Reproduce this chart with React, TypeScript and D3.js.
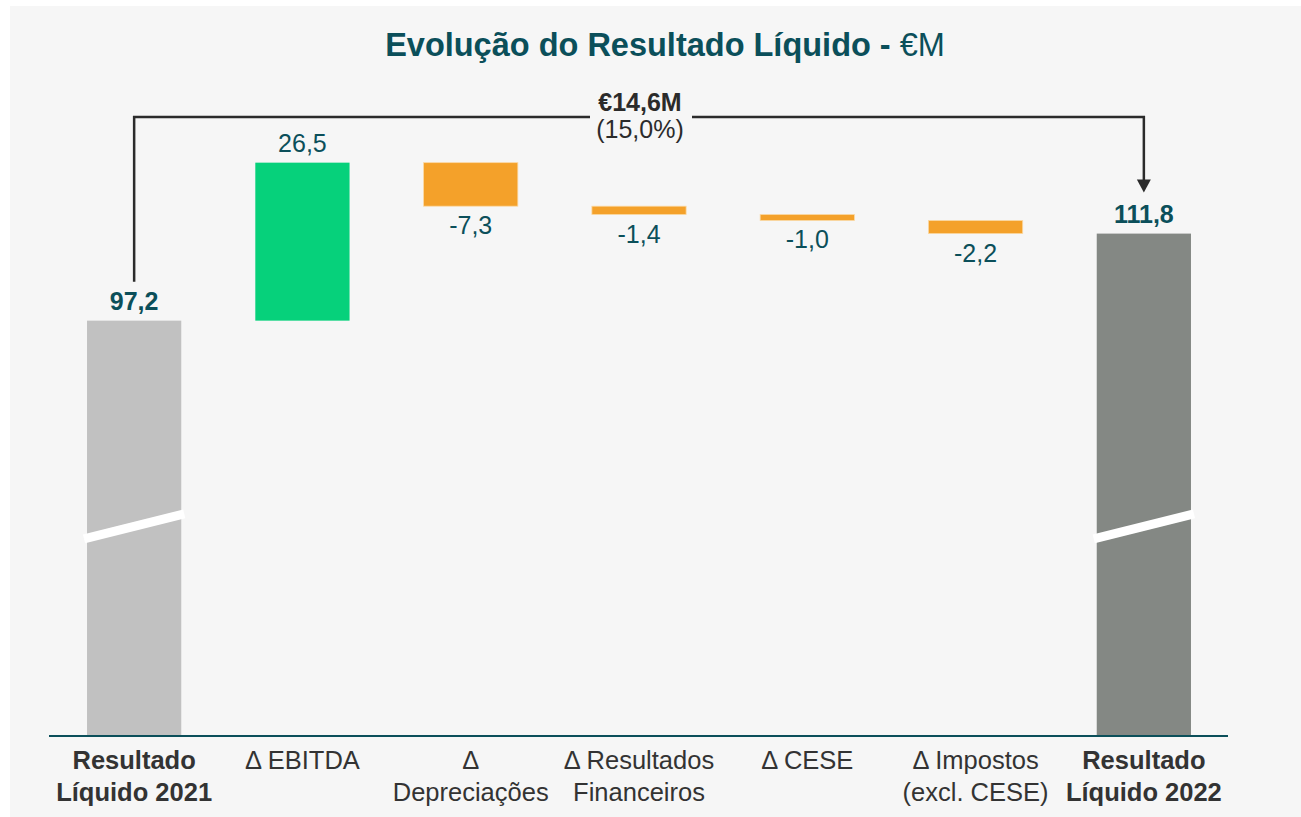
import React from "react";
import * as d3 from "d3";

const categories: string[][] = [
  ["Resultado", "Líquido 2021"],
  ["Δ EBITDA"],
  ["Δ", "Depreciações"],
  ["Δ Resultados", "Financeiros"],
  ["Δ CESE"],
  ["Δ Impostos", "(excl. CESE)"],
  ["Resultado", "Líquido 2022"],
];
const kinds = ["total", "delta", "delta", "delta", "delta", "delta", "total"];
const values = [97.2, 26.5, -7.3, -1.4, -1.0, -2.2, 111.8];
const valueLabels = ["97,2", "26,5", "-7,3", "-1,4", "-1,0", "-2,2", "111,8"];
const changeLabel = "€14,6M";
const changePct = "(15,0%)";
const axisMin = 27.7;
const axisMax = 127.5;
const breakValue = 62.4;

const W = 1301;
const H = 817;
const FONT = "'Liberation Sans', Arial, Helvetica, sans-serif";
const TEAL = "#0b4f5a";
const FS = 25;

export default function App() {
  const x = d3
    .scaleBand<number>()
    .domain(d3.range(categories.length))
    .range([50, 1228])
    .paddingInner(0.44)
    .paddingOuter(0.22);
  const y = d3.scaleLinear().domain([axisMin, axisMax]).range([735, 140]);

  let running = 0;
  const segs = values.map((v, i) => {
    if (kinds[i] === "total") {
      running = v;
      return { lo: axisMin, hi: v, v, i };
    }
    const start = running;
    const end = running + v;
    running = end;
    return { lo: Math.min(start, end), hi: Math.max(start, end), v, i };
  });

  const colorFor = (i: number, v: number) => {
    if (i === 0) return "#c1c1c1";
    if (i === values.length - 1) return "#848884";
    return v >= 0 ? "#06d17b" : "#f4a12a";
  };

  const bw = x.bandwidth();
  const cx0 = (x(0) as number) + bw / 2;
  const cxN = (x(values.length - 1) as number) + bw / 2;
  const bracketY = 117;
  const lastTop = y(values[values.length - 1]);

  return (
    <svg width={W} height={H} style={{ display: "block", position: "absolute", left: 0, top: 0 }}>
      <rect x={10} y={6} width={W - 10} height={H - 6} fill="#f6f6f6" />
      <text x={665} y={56} textAnchor="middle" fontFamily={FONT} fontSize={32.5} fill={TEAL}>
        <tspan fontWeight="bold">Evolução do Resultado Líquido - </tspan>
        <tspan>€M</tspan>
      </text>

      {segs.map((s) => {
        const bx = x(s.i) as number;
        const top = y(s.hi);
        const bottom = y(s.lo);
        const isTotal = kinds[s.i] === "total";
        return (
          <g key={s.i}>
            <rect
              x={bx}
              y={top}
              width={bw}
              height={Math.max(1, bottom - top)}
              fill={colorFor(s.i, s.v)}
              stroke={!isTotal && s.v < 0 ? "#fbd9a4" : "none"}
              strokeWidth={0.8}
            />
            {isTotal && (
              <line
                x1={bx - 3}
                x2={bx + bw + 3}
                y1={y(breakValue - 1.8)}
                y2={y(breakValue + 2.4)}
                stroke="#ffffff"
                strokeWidth={9}
              />
            )}
            <text
              x={bx + bw / 2}
              y={s.v >= 0 ? top - 11 : bottom + 28}
              textAnchor="middle"
              fontFamily={FONT}
              fontSize={FS}
              fontWeight={isTotal ? "bold" : "normal"}
              fill={TEAL}
            >
              {valueLabels[s.i]}
            </text>
          </g>
        );
      })}

      <line x1={49} x2={1228} y1={736} y2={736} stroke={TEAL} strokeWidth={2} />

      {categories.map((lines, i) => (
        <text
          key={i}
          x={(x(i) as number) + bw / 2}
          textAnchor="middle"
          fontFamily={FONT}
          fontSize={25.5}
          fontWeight={kinds[i] === "total" ? "bold" : "normal"}
          fill="#333333"
        >
          {lines.map((l, j) => (
            <tspan key={j} x={(x(i) as number) + bw / 2} y={769 + j * 32}>
              {l}
            </tspan>
          ))}
        </text>
      ))}

      <path
        d={`M${cx0},${y(values[0]) - 39} V${bracketY} H590 M692,${bracketY} H${cxN} V${lastTop - 52}`}
        fill="none"
        stroke="#2b2b2b"
        strokeWidth={2.5}
      />
      <path
        d={`M${cxN - 7},${lastTop - 54} L${cxN + 7},${lastTop - 54} L${cxN},${lastTop - 41} Z`}
        fill="#2b2b2b"
      />
      <text x={640} y={111} textAnchor="middle" fontFamily={FONT} fontSize={FS} fontWeight="bold" fill="#2b2b2b">
        {changeLabel}
      </text>
      <text x={640} y={138} textAnchor="middle" fontFamily={FONT} fontSize={FS} fill="#2b2b2b">
        {changePct}
      </text>
    </svg>
  );
}
